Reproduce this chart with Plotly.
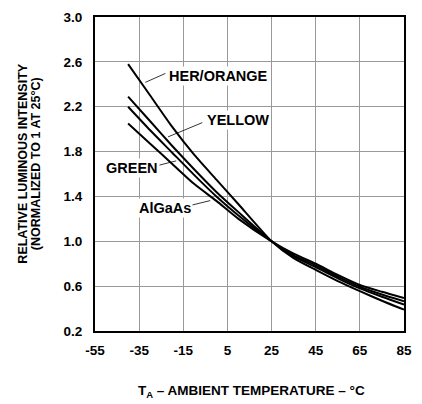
import plotly.graph_objects as go

# Data
temperature = [-40, -30, -20, -10, 0, 10, 25, 35, 45, 55, 65, 75, 85]
her_orange = [2.58, 2.30, 2.02, 1.77, 1.55, 1.33, 1.00, 0.85, 0.745, 0.645, 0.555, 0.47, 0.39]
yellow = [2.29, 2.07, 1.85, 1.64, 1.44, 1.26, 1.00, 0.865, 0.77, 0.67, 0.58, 0.505, 0.435]
green = [2.20, 1.99, 1.79, 1.59, 1.40, 1.23, 1.00, 0.875, 0.785, 0.685, 0.595, 0.525, 0.465]
algaas = [2.05, 1.87, 1.69, 1.51, 1.36, 1.20, 1.00, 0.89, 0.80, 0.70, 0.61, 0.55, 0.495]

x_ticks = [-55, -35, -15, 5, 25, 45, 65, 85]
y_ticks = [0.2, 0.6, 1.0, 1.4, 1.8, 2.2, 2.6, 3.0]

series = [("HER/ORANGE", her_orange), ("YELLOW", yellow), ("GREEN", green), ("AlGaAs", algaas)]

FONT = "Liberation Sans, Arial, Helvetica, sans-serif"

fig = go.Figure()
for name, vals in series:
    fig.add_trace(go.Scatter(
        x=temperature, y=vals, mode="lines", name=name,
        line=dict(color="black", width=2, shape="spline", smoothing=0.6),
        showlegend=False, hoverinfo="skip",
    ))

# Curve labels with leader lines: (text, text_x, text_y, leader start, leader end)
labels = [
    ("HER/ORANGE", 1.0, 2.473, (-32.2, 2.417), (-23.1, 2.497)),
    ("YELLOW", 9.6, 2.081, (-21.9, 1.931), (-6.4, 2.058)),
    ("GREEN", -38.3, 1.651, (-26.7, 1.675), (-18.2, 1.717)),
    ("AlGaAs", -23.2, 1.301, (-11.9, 1.319), (-2.8, 1.363)),
]
for text, tx, ty, (x0, y0), (x1, y1) in labels:
    fig.add_shape(type="line", x0=x0, y0=y0, x1=x1, y1=y1, xref="x", yref="y",
                  line=dict(color="black", width=0.8), layer="above")
    fig.add_annotation(x=tx, y=ty, xref="x", yref="y", text=text, showarrow=False,
                       font=dict(family=FONT, size=14.5, color="black", weight="bold"),
                       bgcolor="white", borderpad=1, xanchor="center", yanchor="middle")

# Y axis title (two lines)
fig.add_annotation(x=0, y=0.533, xref="paper", yref="paper", xshift=-72,
                   text="RELATIVE LUMINOUS INTENSITY", textangle=-90, showarrow=False,
                   font=dict(family=FONT, size=12.5, color="black", weight="bold"),
                   xanchor="center", yanchor="middle")
fig.add_annotation(x=0, y=0.533, xref="paper", yref="paper", xshift=-59.5,
                   text="(NORMALIZED TO 1 AT 25°C)", textangle=-90, showarrow=False,
                   font=dict(family=FONT, size=12.5, color="black", weight="bold"),
                   xanchor="center", yanchor="middle")
# X axis title
fig.add_annotation(x=0.508, y=-0.1924, xref="paper", yref="paper",
                   text="T<sub>A</sub> – AMBIENT TEMPERATURE – °C", showarrow=False,
                   font=dict(family=FONT, size=13.5, color="black", weight="bold"),
                   xanchor="center", yanchor="middle")

fig.update_xaxes(range=[-55, 85], tickvals=x_ticks, ticktext=[str(v) for v in x_ticks],
                 showgrid=True, gridcolor="#999999", gridwidth=1,
                 showline=True, linecolor="black", linewidth=2, mirror=True,
                 ticks="", ticklabelstandoff=6, zeroline=False,
                 tickfont=dict(family=FONT, size=13.5, color="black", weight="bold"))
fig.update_yaxes(range=[0.2, 3.0], tickvals=y_ticks, ticktext=[f"{v:.1f}" for v in y_ticks],
                 showgrid=True, gridcolor="#999999", gridwidth=1,
                 showline=True, linecolor="black", linewidth=2, mirror=True,
                 ticks="", ticklabelstandoff=8, zeroline=False,
                 tickfont=dict(family=FONT, size=13.5, color="black", weight="bold"))

fig.update_layout(width=422, height=404, margin=dict(l=95, r=10, t=14, b=73),
                  plot_bgcolor="white", paper_bgcolor="white")

fig.write_html("out.html", config={"displayModeBar": False},
               post_script="document.body.style.margin='0';")
